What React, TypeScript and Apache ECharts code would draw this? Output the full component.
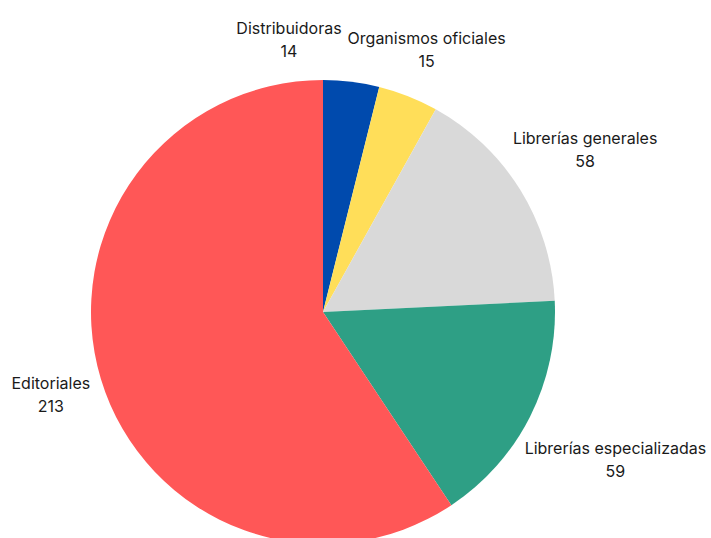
import React, { useEffect, useRef } from 'react';
import * as echarts from 'echarts';

const categories = [
  'Distribuidoras',
  'Organismos oficiales',
  'Librerías generales',
  'Librerías especializadas',
  'Editoriales',
];
const values = [14, 15, 58, 59, 213];
const colors = ['#004AAD', '#FFDE59', '#D9D9D9', '#2E9F85', '#FF5757'];

const CENTER = [323, 312];
const RADIUS = 232;
const FONT_SIZE = 16;
const LINE_H = 23;
const FONT_FAMILY = 'Inter';
const GAP = 14;
const PAD = 6;

type Box = { x: number; y: number; w: number; h: number };

function computeLabelBoxes(): Box[] {
  const canvas = document.createElement('canvas');
  const ctx = canvas.getContext('2d')!;
  ctx.font = `${FONT_SIZE}px ${FONT_FAMILY}`;
  const total = values.reduce((a, b) => a + b, 0);
  let acc = 0;
  const boxes: Box[] = categories.map((name, i) => {
    const mid = ((acc + values[i] / 2) / total) * Math.PI * 2;
    acc += values[i];
    const w = Math.max(ctx.measureText(name).width, ctx.measureText(String(values[i])).width);
    const h = 2 * LINE_H;
    const s = Math.sin(mid);
    const c = Math.cos(mid);
    const proj = Math.hypot((s * w) / 2, (c * h) / 2);
    const d = RADIUS + GAP + proj;
    return { x: CENTER[0] + s * d, y: CENTER[1] - c * d, w, h };
  });
  for (let i = boxes.length - 2; i >= 0; i--) {
    const a = boxes[i];
    const b = boxes[i + 1];
    const overlapX = (a.w + b.w) / 2 + PAD - Math.abs(a.x - b.x);
    const overlapY = (a.h + b.h) / 2 + PAD - Math.abs(a.y - b.y);
    if (overlapX > 0 && overlapY > 0) {
      const dx = a.x - b.x;
      const dy = a.y - b.y;
      const len = Math.hypot(dx, dy) || 1;
      const ux = dx / len;
      const uy = dy / len;
      const tx = Math.abs(ux) > 1e-6 ? overlapX / Math.abs(ux) : Infinity;
      const ty = Math.abs(uy) > 1e-6 ? overlapY / Math.abs(uy) : Infinity;
      const t = Math.min(tx, ty);
      a.x += ux * t;
      a.y += uy * t;
    }
  }
  return boxes;
}

export default function App() {
  const ref = useRef<HTMLDivElement>(null);
  useEffect(() => {
    document.body.style.margin = '0';
    if (!ref.current) return;
    const chart = echarts.init(ref.current, undefined, { renderer: 'svg' });
    const boxes = computeLabelBoxes();
    chart.setOption({
      animation: false,
      backgroundColor: '#ffffff',
      series: [
        {
          type: 'pie',
          center: CENTER,
          radius: RADIUS,
          startAngle: 90,
          clockwise: true,
          avoidLabelOverlap: false,
          data: categories.map((name, i) => ({
            name,
            value: values[i],
            itemStyle: { color: colors[i] },
          })),
          itemStyle: { borderWidth: 0 },
          label: {
            show: true,
            position: 'outside',
            formatter: '{b}\n{c}',
            fontFamily: FONT_FAMILY,
            fontSize: FONT_SIZE,
            lineHeight: LINE_H,
            color: '#1a1a1a',
          },
          labelLine: { show: false },
          labelLayout: (params: any) => {
            const b = boxes[params.dataIndex];
            return { x: b.x, y: b.y, align: 'center', verticalAlign: 'middle' };
          },
          emphasis: { disabled: true },
        },
      ],
    });
    return () => chart.dispose();
  }, []);
  return <div ref={ref} style={{ width: 711, height: 538 }} />;
}
